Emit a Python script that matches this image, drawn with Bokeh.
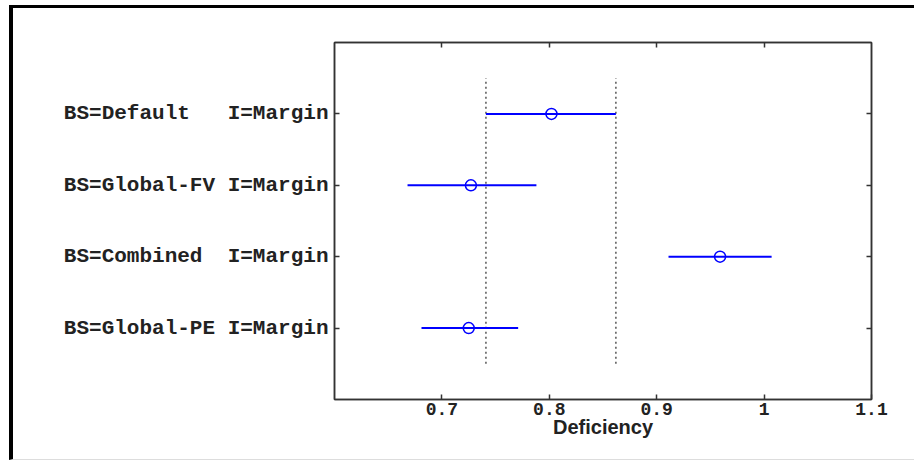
from bokeh.plotting import figure
from bokeh.models import FixedTicker, LinearAxis, Range1d
from bokeh.embed import file_html
from bokeh.resources import INLINE

# ---- data ----
NB = "\u00a0"
labels = ["BS=Default" + NB * 3 + "I=Margin", "BS=Global-FV" + NB + "I=Margin",
          "BS=Combined" + NB * 2 + "I=Margin", "BS=Global-PE" + NB + "I=Margin"]
positions = [4, 3, 2, 1]
centers = [0.802, 0.727, 0.959, 0.725]
lowers = [0.741, 0.668, 0.911, 0.681]
uppers = [0.862, 0.788, 1.007, 0.771]
ref_lines = [0.741, 0.862]
x_ticks = [0.7, 0.8, 0.9, 1.0, 1.1]
x_tick_labels = ["0.7", "0.8", "0.9", "1", "1.1"]

W, H = 905, 455
p = figure(width=W, height=H, output_backend="svg", toolbar_location=None,
           x_range=Range1d(0.6, 1.1), y_range=Range1d(0, 5),
           min_border_left=321, min_border_right=47,
           min_border_top=34, min_border_bottom=64,
           x_axis_label="Deficiency")
p.styles = {"border-top": "3px solid black", "border-left": "4px solid black",
            "border-bottom": "1px solid #dddddd",
            "margin-left": "9px", "margin-top": "5px"}
p.grid.visible = False
p.outline_line_color = "#333333"
p.outline_line_width = 1.5
p.background_fill_color = "white"
p.border_fill_color = "white"

# reference dotted lines
for xv in ref_lines:
    p.line([xv, xv], [0.5, 4.5], line_color="#555555", line_width=1.5,
           line_dash="2 3")

# interval bars
p.segment(x0=lowers, x1=uppers, y0=positions, y1=positions,
          line_color="#0000ff", line_width=2)
p.scatter(centers, positions, marker="circle", size=11, fill_color=None,
          line_color="#0000ff", line_width=1.5)

mono = "Liberation Mono"

# bottom axis
xa = p.xaxis[0]
xa.ticker = FixedTicker(ticks=x_ticks)
xa.major_label_overrides = {t: l for t, l in zip(x_ticks, x_tick_labels)}
xa.major_label_text_font = mono
xa.major_label_text_font_style = "bold"
xa.major_label_text_font_size = "18px"
xa.major_label_text_color = "#222222"
xa.major_label_standoff = 3
xa.axis_label_text_font = "Liberation Sans"
xa.axis_label_text_font_style = "bold"
xa.axis_label_text_font_size = "20px"
xa.axis_label_text_color = "#222222"
xa.axis_label_standoff = -2
xa.minor_tick_line_color = None

# left axis
ya = p.yaxis[0]
ya.ticker = FixedTicker(ticks=positions)
ya.major_label_overrides = {pos: lab for pos, lab in zip(positions, labels)}
ya.major_label_text_font = mono
ya.major_label_text_font_style = "bold"
ya.major_label_text_font_size = "21px"
ya.major_label_text_color = "#222222"
ya.major_label_standoff = 6
ya.minor_tick_line_color = None

for ax in (xa, ya):
    ax.major_tick_in = 5
    ax.major_tick_out = 0
    ax.axis_line_color = "#333333"
    ax.axis_line_width = 1.5
    ax.major_tick_line_color = "#333333"
    ax.major_tick_line_width = 1.5

# top and right axes (ticks only)
top = LinearAxis(ticker=FixedTicker(ticks=x_ticks[:-1]))
right = LinearAxis(ticker=FixedTicker(ticks=positions))
top.major_label_overrides = {t: "" for t in x_ticks}
right.major_label_overrides = {t: "" for t in positions}
for ax in (top, right):
    ax.major_tick_in = 5
    ax.major_tick_out = 0
    ax.minor_tick_line_color = None
    ax.axis_line_color = "#333333"
    ax.axis_line_width = 1.5
    ax.major_tick_line_color = "#333333"
    ax.major_tick_line_width = 1.5
    ax.major_label_standoff = 0
p.add_layout(top, "above")
p.add_layout(right, "right")

open("out.html", "w").write(file_html(p, INLINE))
